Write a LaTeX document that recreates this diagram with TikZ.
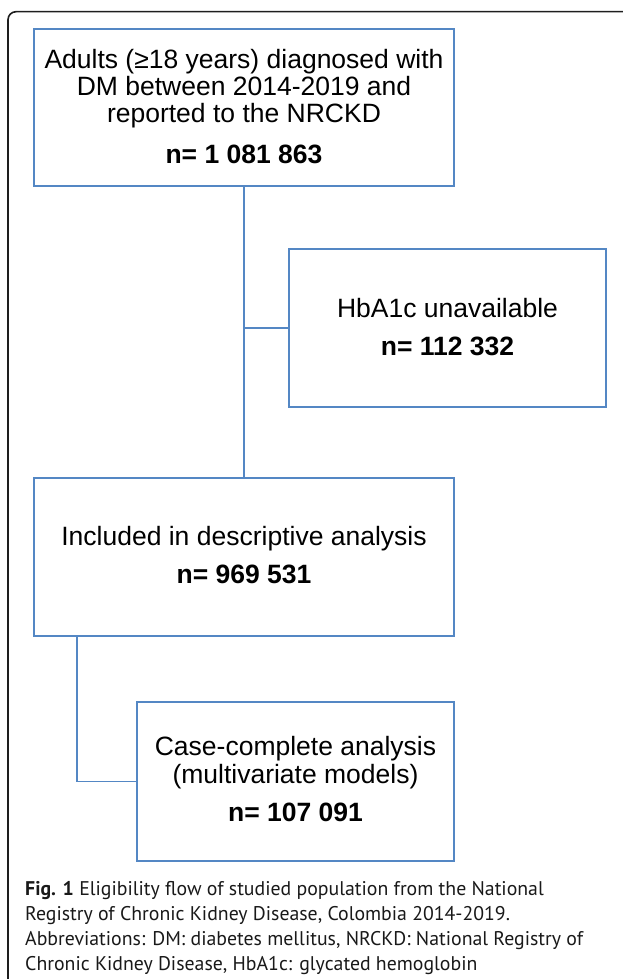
\documentclass[tikz,border=0pt]{standalone}
\usepackage{fontspec}
\setmainfont{Liberation Sans}
\newfontfamily\capfont{PT Sans}
\definecolor{boxblue}{RGB}{84,135,196}
\definecolor{framegray}{RGB}{30,30,30}
\definecolor{captext}{RGB}{25,25,25}
\begin{document}
\begin{tikzpicture}[x=1pt,y=-1pt,
  flowbox/.style={draw=boxblue,line width=1.8pt,inner sep=0pt,outer sep=0pt,
    minimum width=#1},
  link/.style={draw=boxblue,line width=1.8pt},
  txt/.style={anchor=base,inner sep=0pt,font=\fontsize{26.5}{27}\selectfont},
  btxt/.style={anchor=base,inner sep=0pt,font=\fontsize{26.5}{27}\selectfont\bfseries},
  captxt/.style={anchor=base west,inner sep=0pt,text=captext,font=\capfont\fontsize{19.8}{25}\selectfont}]
\useasboundingbox (0,0) rectangle (623,979);
\begin{scope}
\clip (0,0) rectangle (623,979);
\draw[framegray,line width=1.6pt,rounded corners=8pt] (8,11.7) rectangle (680,1020);
\end{scope}

% boxes
\node[flowbox=420pt,minimum height=157.3pt] (b1) at (244,107.35) {};
\node[flowbox=317pt,minimum height=158pt] (b2) at (447.5,328) {};
\node[flowbox=420pt,minimum height=158pt] (b3) at (244,557) {};
\node[flowbox=317pt,minimum height=159pt] (b4) at (295.5,781.5) {};

% connectors
\coordinate (j1) at (244,328);
\coordinate (j2) at (77,781.5);
\draw[link] (b1.south) -- (b3.north);
\draw[link] (j1) -- (b2.west);
\draw[link] (b3.south -| j2) -- (j2) -- (b4.west);

% texts
\node[txt] (t1a) at (244,69) {Adults (≥18 years) diagnosed with};
\node[txt] (t1b) at (244,96) {DM between 2014-2019 and};
\node[txt] (t1c) at (244,123) {reported to the NRCKD};
\node[btxt] (t1d) at (244,163) {n= 1 081 863};

\node[txt] (t2a) at (447.5,317) {HbA1c unavailable};
\node[btxt] (t2b) at (447.5,355) {n= 112 332};

\node[txt] (t3a) at (244,545) {Included in descriptive analysis};
\node[btxt] (t3b) at (244,583) {n= 969 531};

\node[txt] (t4a) at (295.5,755) {Case-complete analysis};
\node[txt] (t4b) at (295.5,783) {(multivariate models)};
\node[btxt] (t4c) at (295.5,821) {n= 107 091};

% caption
\node[captxt] (c1) at (25,895) {\textbf{Fig. 1} Eligibility flow of studied population from the National};
\node[captxt] (c2) at (25,920) {Registry of Chronic Kidney Disease, Colombia 2014-2019.};
\node[captxt] (c3) at (25,945) {Abbreviations: DM: diabetes mellitus, NRCKD: National Registry of};
\node[captxt] (c4) at (25,970) {Chronic Kidney Disease, HbA1c: glycated hemoglobin};
\end{tikzpicture}
\end{document}
